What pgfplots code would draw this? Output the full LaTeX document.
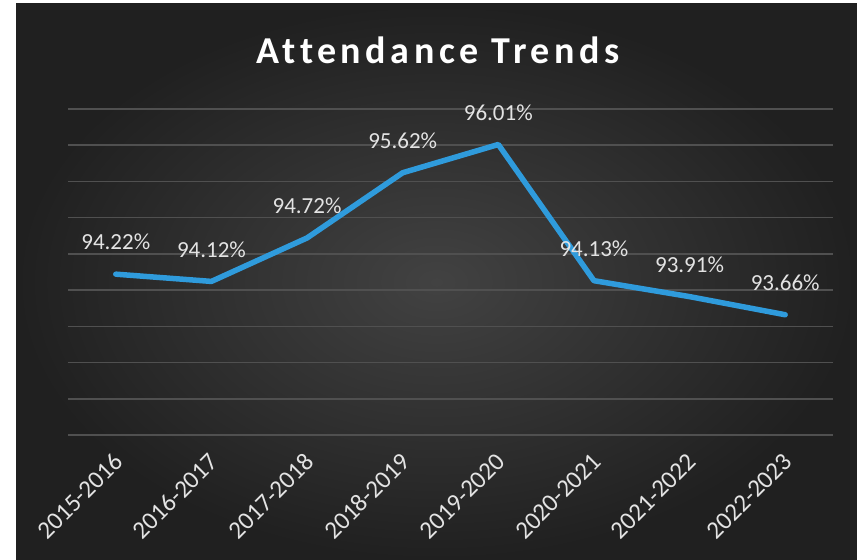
\documentclass[border=0pt]{standalone}
\usepackage{pgfplots}
\pgfplotsset{compat=1.18}
\usepackage{fontspec}
\setmainfont{Carlito}
\newfontfamily\titlefont[LetterSpace=12,Ligatures={NoCommon,NoRequired,NoContextual}]{Carlito}
\definecolor{bgin}{HTML}{424242}
\definecolor{bgout}{HTML}{202020}
\definecolor{gridc}{HTML}{505050}
\definecolor{linec}{HTML}{2F9BDC}
\definecolor{txtc}{HTML}{E3E3E3}
\pgfplotstableread{
x y
0 94.22
1 94.12
2 94.72
3 95.62
4 96.01
5 94.13
6 93.91
7 93.66
}\attendance
\begin{document}
\begin{tikzpicture}[x=1bp,y=1bp]
\useasboundingbox (0,0) rectangle (857,560);
\fill[white] (0,0) rectangle (857,560);
\shade[inner color=bgin, outer color=bgout] (16,0) rectangle (857,556);
\node[anchor=base, text=black!85, font=\titlefont\fontsize{38bp}{42bp}\selectfont\bfseries] at (439.5,494.5) {Attendance Trends};
\node[anchor=base, text=white, font=\titlefont\fontsize{38bp}{42bp}\selectfont\bfseries] at (438,496) {Attendance Trends};
\begin{axis}[
  at={(68bp,125bp)}, anchor=south west,
  scale only axis, width=765bp, height=326bp,
  xmin=-0.5, xmax=7.5, ymin=92, ymax=96.5,
  axis line style={draw=none},
  xtick={0,...,7},
  xticklabels={2015-2016,2016-2017,2017-2018,2018-2019,2019-2020,2020-2021,2021-2022,2022-2023},
  ytick={92,92.5,...,96.5}, yticklabels={},
  major tick length=0pt,
  ymajorgrids, grid style={gridc, line width=1.6bp},
  xticklabel style={xshift=5bp, yshift=-20bp, rotate=45, anchor=east, text=txtc, font=\fontsize{25bp}{28bp}\selectfont},
  nodes near coords={\pgfmathprintnumber[fixed,fixed zerofill,precision=2,assume math mode=true]{\pgfplotspointmeta}\%},
  point meta=y,
  every node near coord/.append style={anchor=center, yshift=32bp, text=txtc, font=\fontsize{23bp}{26bp}\selectfont},
  clip=false,
]
\addplot[linec, line width=5.5bp, line join=round, line cap=round, mark=none] table[x=x,y=y] {\attendance};
\end{axis}
\end{tikzpicture}
\end{document}
